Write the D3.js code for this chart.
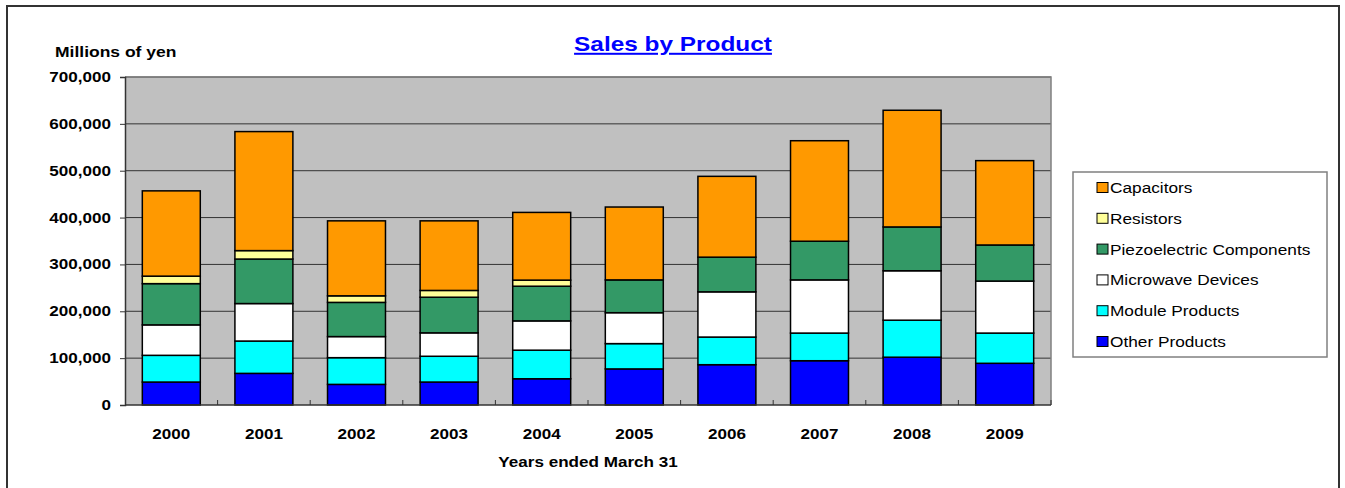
<!DOCTYPE html>
<html><head><meta charset="utf-8">
<script src="https://cdn.jsdelivr.net/npm/d3@7"></script>
<style>
html,body{margin:0;padding:0;background:#fff;}
svg{display:block;font-family:"Liberation Sans",Arial,sans-serif;}
</style></head>
<body>
<svg id="chart" width="1345" height="488"></svg>
<script>
// ---- data (millions of yen) ----
const years = ["2000","2001","2002","2003","2004","2005","2006","2007","2008","2009"];
const otherProducts  = [49000, 67500, 44000, 49000, 56000, 77000, 86000, 94500, 102000, 89000];
const moduleProducts = [57000, 69000, 57000, 55000, 61000, 54000, 59000, 59000, 79000, 64500];
const microwave      = [65000, 80000, 45000, 50000, 62500, 66000, 96500, 113500, 105500, 111000];
const piezo          = [88000, 95000, 73000, 76000, 74000, 70000, 74000, 82500, 93500, 77000];
const resistors      = [16000, 18000, 14000, 14500, 13000, 0, 0, 0, 0, 0];
const capacitors     = [182000, 254000, 160000, 148500, 144500, 155500, 172500, 214500, 249000, 180000];
const seriesNames = ["Other Products","Module Products","Microwave Devices","Piezoelectric Components","Resistors","Capacitors"];
const seriesColors = ["#0000FF","#00FFFF","#FFFFFF","#339966","#FFFF99","#FF9900"];
const yTicks = [0,100000,200000,300000,400000,500000,600000,700000];

const seriesValues = [otherProducts, moduleProducts, microwave, piezo, resistors, capacitors];
const table = years.map((y,i)=>{ const o={year:y}; seriesNames.forEach((s,k)=>o[s]=seriesValues[k][i]); return o; });

const svg = d3.select("#chart");
const SX = 1.22;
function txt(g, x, y, s, opts){
  const t = g.append("text").attr("transform",`translate(${x},${y}) scale(${opts.sx||SX},1)`)
    .attr("font-size",opts.size).attr("font-weight",opts.weight||"normal")
    .attr("text-anchor",opts.anchor||"start").attr("fill",opts.fill||"#000").text(s);
  if(opts.dy) t.attr("dy",opts.dy);
  return t;
}

// outer frame
svg.append("rect").attr("x",7).attr("y",6).attr("width",1332).attr("height",500)
  .attr("fill","#fff").attr("stroke","#333").attr("stroke-width",2);

const L=125, R=1051, T=77, B=405;
const x = d3.scaleBand().domain(years).range([L,R]).paddingInner(0.374).paddingOuter(0.187);
const y = d3.scaleLinear().domain([0,700000]).range([B,T]);

// plot area
svg.append("rect").attr("x",L).attr("y",T).attr("width",R-L).attr("height",B-T).attr("fill","#C0C0C0");
// gridlines
svg.append("g").selectAll("line").data(yTicks.filter(d=>d>0)).join("line")
  .attr("x1",L).attr("x2",R).attr("y1",d=>y(d)).attr("y2",d=>y(d))
  .attr("stroke","#333").attr("stroke-width",1);
// plot border (top/right)
svg.append("path").attr("d",`M${L},${T}H${R}V${B}`).attr("fill","none").attr("stroke","#808080").attr("stroke-width",1.5);

// bars
const stack = d3.stack().keys(seriesNames)(table);
const gb = svg.append("g");
stack.forEach((layer,k)=>{
  gb.append("g").selectAll("rect").data(layer.filter(d=>d[1]-d[0]>0)).join("rect")
    .attr("x",d=>x(d.data.year)).attr("width",x.bandwidth())
    .attr("y",d=>y(d[1])).attr("height",d=>y(d[0])-y(d[1]))
    .attr("fill",seriesColors[k]).attr("stroke","#000").attr("stroke-width",1.5);
});

// axes
const yAxis = svg.append("g").attr("transform",`translate(${L},0)`)
  .call(d3.axisLeft(y).tickValues(yTicks).tickSize(5).tickFormat(""));
yAxis.select(".domain").attr("stroke","#333").attr("stroke-width",1.5);
yAxis.selectAll(".tick line").attr("stroke","#333");
const fmt = d3.format(",");
const gl = svg.append("g");
yTicks.forEach(v=>txt(gl,111,y(v),fmt(v),{size:14,weight:"bold",anchor:"end",dy:"0.36em"}));

svg.append("line").attr("x1",L).attr("x2",R).attr("y1",B).attr("y2",B).attr("stroke","#333").attr("stroke-width",1.5);
const bounds = years.map((d,i)=>x(d)-x.step()*x.paddingInner()/2).slice(1).concat([R]);
svg.append("g").selectAll("line").data(bounds).join("line")
  .attr("x1",d=>d).attr("x2",d=>d).attr("y1",B).attr("y2",B-5).attr("stroke","#333");
years.forEach(yr=>txt(gl,x(yr)+x.bandwidth()/2,439,yr,{size:14,weight:"bold",anchor:"middle"}));

// titles
txt(gl,(L+R)/2,467,"Years ended March 31",{size:14,weight:"bold",anchor:"middle"});
txt(gl,55,57,"Millions of yen",{size:14,weight:"bold",sx:1.25});
txt(gl,673,51,"Sales by Product",{size:20,weight:"bold",anchor:"middle",fill:"#0000FF"})
  .attr("text-decoration","underline");

// legend
const lg = svg.append("g");
lg.append("rect").attr("x",1073).attr("y",172).attr("width",254).attr("height",185)
  .attr("fill","#fff").attr("stroke","#808080").attr("stroke-width",1.5);
const legendOrder = seriesNames.map((s,k)=>k).reverse();
legendOrder.forEach((k,i)=>{
  const cy = 187.5 + i*30.8;
  lg.append("rect").attr("x",1097).attr("y",cy-5).attr("width",11).attr("height",10)
    .attr("fill",seriesColors[k]).attr("stroke","#000").attr("stroke-width",1);
  txt(lg,1110,cy,seriesNames[k],{size:15,dy:"0.36em",sx:1.15});
});
</script>
</body></html>
